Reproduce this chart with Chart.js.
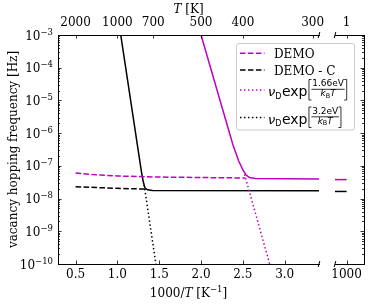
<!DOCTYPE html>
<html>
<head>
<meta charset="utf-8">
<script src="https://cdn.jsdelivr.net/npm/chart.js@4"></script>
<style>
  html, body { margin: 0; padding: 0; background: #fff; }
  #wrap { position: relative; width: 374px; height: 304px; }
  #wrap canvas { position: absolute; left: 0; top: 0; }
</style>
</head>
<body>
<div id="wrap">
  <canvas id="side" width="374" height="304"></canvas>
  <canvas id="main" width="374" height="304"></canvas>
</div>
<script>
// values: x is 1000/T [1/K], y is hopping frequency [Hz]
const demoX = [0.5, 0.7, 1.0, 1.5, 2.0, 2.53];
const demoY = [6.0e-8, 5.4e-8, 4.9e-8, 4.55e-8, 4.4e-8, 4.25e-8];
const demoCX = [0.5, 0.8, 1.0, 1.34];
const demoCY = [2.3e-8, 2.15e-8, 2.05e-8, 1.95e-8];
const demoLowX = [2.0, 2.38, 2.45, 2.5, 2.54, 2.58, 2.65, 3.41];
const demoLowY = [1e-3, 4.5e-7, 1.4e-7, 7.5e-8, 5.2e-8, 4.4e-8, 4.1e-8, 4.0e-8];
const demoCLowX = [1.04, 1.25, 1.29, 1.31, 1.33, 1.36, 1.42, 3.41];
const demoCLowY = [1e-3, 2.8e-7, 6.0e-8, 3.2e-8, 2.1e-8, 1.85e-8, 1.78e-8, 1.72e-8];
const arr166X = [2.52, 2.82];
const arr166Y = [5.5e-8, 1e-10];
const arr32X = [1.32, 1.46];
const arr32Y = [2.6e-8, 1e-10];
// right panel, around 1000/T = 1000 (T = 1 K)
const sideX = [995, 1000];
const demoSideY = [3.8e-8, 3.8e-8];
const demoCSideY = [1.65e-8, 1.65e-8];

// ticks
const xTicks = [0.5, 1.0, 1.5, 2.0, 2.5, 3.0];
const tTicks = [2000, 1000, 700, 500, 400, 300];
const sideXTicks = [1000];
const sideTTicks = [1];
const yExps = [-10, -9, -8, -7, -6, -5, -4, -3];

const legendLabels = ['DEMO', 'DEMO - C'];
const legendEnergies = ['1.66eV', '3.2eV'];

const MAG = '#bf00bf';
const DASH = [5.55, 2.4];
const DOT = [1.5, 2.475];
const SERIF = 'DejaVu Serif';
const SANS = 'DejaVu Sans';
const FS = 12;

Chart.defaults.font.family = SERIF;
Chart.defaults.font.size = FS;
Chart.defaults.color = '#000';

const pts = (xs, ys) => xs.map((x, i) => ({x: x, y: ys[i]}));

// major decades plus 2..9 minor marks
let yTicks = [];
yExps.forEach((e, k) => {
  for (let m = 1; m <= 9; m++) {
    if (m > 1 && k === yExps.length - 1) break;
    yTicks.push({value: m * Math.pow(10, e), major: m === 1, exp: e});
  }
});

function line(data, color, dash) {
  return {data: data, borderColor: color, borderWidth: 1.5, borderDash: dash || [],
    pointRadius: 0, fill: false, tension: 0};
}

// ticks point inward, minor ones shorter
const inTicks = {
  id: 'inTicks',
  afterDraw(chart) {
    const ctx = chart.ctx, a = chart.chartArea;
    ctx.save();
    ctx.strokeStyle = '#000';
    ctx.lineWidth = 0.8;
    Object.values(chart.scales).forEach(s => {
      s.ticks.forEach(t => {
        if (t.value < s.min || t.value > s.max) return;
        const len = t.major === false ? 2 : 3.5;
        const p = Math.round(s.getPixelForValue(t.value)) + 0.5;
        ctx.beginPath();
        if (s.position === 'bottom') { ctx.moveTo(p, a.bottom); ctx.lineTo(p, a.bottom - len); }
        else if (s.position === 'top') { ctx.moveTo(p, a.top); ctx.lineTo(p, a.top + len); }
        else if (s.position === 'left') { ctx.moveTo(a.left, p); ctx.lineTo(a.left + len, p); }
        else { ctx.moveTo(a.right, p); ctx.lineTo(a.right - len, p); }
        ctx.stroke();
      });
    });
    ctx.restore();
  }
};

function breakMarks(chart, x) {
  const ctx = chart.ctx, a = chart.chartArea;
  ctx.save();
  ctx.strokeStyle = '#000';
  ctx.lineWidth = 1;
  [a.top, a.bottom].forEach(y => {
    ctx.beginPath();
    ctx.moveTo(x - 0.8, y + 3);
    ctx.lineTo(x + 0.8, y - 3);
    ctx.stroke();
  });
  ctx.restore();
}

function drawPieces(ctx, pieces, x) {
  pieces.forEach(p => {
    ctx.font = p[1];
    ctx.fillText(p[0], x, p[2]);
    x += ctx.measureText(p[0]).width;
  });
  return x;
}
function piecesWidth(ctx, pieces) {
  let w = 0;
  pieces.forEach(p => { ctx.font = p[1]; w += ctx.measureText(p[0]).width; });
  return w;
}

function bracket(ctx, x, c, dir) {
  ctx.beginPath();
  ctx.moveTo(x + 2.5 * dir, c - 10.5);
  ctx.lineTo(x, c - 10.5);
  ctx.lineTo(x, c + 10);
  ctx.lineTo(x + 2.5 * dir, c + 10);
  ctx.stroke();
}

function mathLabel(ctx, x, c, energy) {
  ctx.textBaseline = 'alphabetic';
  ctx.textAlign = 'left';
  x = drawPieces(ctx, [['\u03BD', 'italic 13px ' + SANS, c + 6], ['D', '8px ' + SANS, c + 8.5]], x);
  x = drawPieces(ctx, [['exp', '14px ' + SANS, c + 6]], x + 0.5);
  ctx.lineWidth = 0.8;
  ctx.strokeStyle = '#000';
  bracket(ctx, x + 1.5, c, 1);
  x += 4;
  const num = [[energy, '9px ' + SANS, c - 3.7]];
  const den = [['k', 'italic 9px ' + SANS, c + 6.3], ['B', '6.5px ' + SANS, c + 7.8], ['T', 'italic 9px ' + SANS, c + 6.3]];
  const nw = piecesWidth(ctx, num), dw = piecesWidth(ctx, den);
  const fw = Math.max(nw, dw) + 1.5;
  drawPieces(ctx, num, x + (fw - nw) / 2);
  drawPieces(ctx, den, x + (fw - dw) / 2);
  ctx.beginPath();
  ctx.moveTo(x, c - 0.7);
  ctx.lineTo(x + fw, c - 0.7);
  ctx.stroke();
  bracket(ctx, x + fw + 2, c, -1);
}

const decorations = {
  id: 'decorations',
  afterDraw(chart) {
    const ctx = chart.ctx, a = chart.chartArea;
    breakMarks(chart, a.right);
    ctx.save();
    ctx.fillStyle = '#000';
    ctx.textBaseline = 'alphabetic';
    ctx.textAlign = 'left';
    const cx = (a.left + a.right) / 2;
    const f = FS + 'px ' + SERIF, fi = 'italic ' + FS + 'px ' + SERIF, fs = '8.5px ' + SERIF;

    // y tick labels 10^n, placed with the log scale
    const ys = chart.scales.y;
    yTicks.forEach(t => {
      if (!t.major) return;
      const py = ys.getPixelForValue(t.value);
      const pc = [['10', f, py + 4.5], ['\u2212' + Math.abs(t.exp), fs, py - 0.5]];
      drawPieces(ctx, pc, a.left - 5 - piecesWidth(ctx, pc));
    });

    // top title: T [K]
    let tp = [['T', fi, 13], [' [K]', f, 13]];
    drawPieces(ctx, tp, cx - piecesWidth(ctx, tp) / 2);
    // bottom title: 1000/T [K^-1]
    let bp = [['1000/', f, 297], ['T', fi, 297], [' [K', f, 297],
      ['\u2212' + '1', fs, 291.5], [']', f, 297]];
    drawPieces(ctx, bp, cx - piecesWidth(ctx, bp) / 2);
    // y title
    ctx.save();
    ctx.translate(17, (a.top + a.bottom) / 2);
    ctx.rotate(-Math.PI / 2);
    ctx.font = f;
    ctx.textAlign = 'center';
    ctx.fillText('vacancy hopping frequency [Hz]', 0, 0);
    ctx.restore();

    // legend
    const bx = 236.5, by = 43.5, bw = 118, bh = 86.5, r = 2.5;
    ctx.beginPath();
    ctx.moveTo(bx + r, by);
    ctx.arcTo(bx + bw, by, bx + bw, by + bh, r);
    ctx.arcTo(bx + bw, by + bh, bx, by + bh, r);
    ctx.arcTo(bx, by + bh, bx, by, r);
    ctx.arcTo(bx, by, bx + bw, by, r);
    ctx.closePath();
    ctx.fillStyle = 'rgba(255,255,255,0.8)';
    ctx.fill();
    ctx.strokeStyle = '#cccccc';
    ctx.lineWidth = 1;
    ctx.stroke();

    const rows = [
      {c: 53.3, color: MAG, dash: DASH, text: legendLabels[0]},
      {c: 70, color: '#000', dash: DASH, text: legendLabels[1]},
      {c: 90, color: MAG, dash: DOT, energy: legendEnergies[0]},
      {c: 117.5, color: '#000', dash: DOT, energy: legendEnergies[1]}
    ];
    rows.forEach(row => {
      ctx.save();
      ctx.strokeStyle = row.color;
      ctx.lineWidth = 1.5;
      ctx.setLineDash(row.dash);
      ctx.beginPath();
      ctx.moveTo(240, row.c);
      ctx.lineTo(264.5, row.c);
      ctx.stroke();
      ctx.restore();
      ctx.fillStyle = '#000';
      if (row.text) {
        ctx.font = '12px ' + SERIF;
        ctx.textAlign = 'left';
        ctx.fillText(row.text, 274, row.c + 5);
      } else {
        mathLabel(ctx, 268, row.c, row.energy);
      }
    });
    ctx.restore();
  }
};

const sideMarks = {
  id: 'sideMarks',
  afterDraw(chart) { breakMarks(chart, chart.chartArea.left); }
};

const noGrid = {display: false, drawTicks: false};
const spine = {display: true, color: '#000', width: 1};

new Chart(document.getElementById('main'), {
  type: 'line',
  data: {
    datasets: [
      line(pts(demoX, demoY), MAG, DASH),
      line(pts(demoCX, demoCY), '#000', DASH),
      line(pts(arr166X, arr166Y), MAG, DOT),
      line(pts(arr32X, arr32Y), '#000', DOT),
      line(pts(demoLowX, demoLowY), MAG),
      line(pts(demoCLowX, demoCLowY), '#000')
    ]
  },
  options: {
    responsive: false,
    animation: false,
    devicePixelRatio: 1,
    layout: {padding: {left: 0, right: 55, top: 0, bottom: 0}},
    plugins: {legend: {display: false}, tooltip: {enabled: false}},
    scales: {
      x: {
        type: 'linear', position: 'bottom', min: 0.29, max: 3.41,
        afterBuildTicks: s => { s.ticks = xTicks.map(v => ({value: v})); },
        afterFit: s => { s.height = 40; },
        ticks: {callback: v => v.toFixed(1), padding: 4, autoSkip: false, maxRotation: 0},
        grid: noGrid, border: spine
      },
      xt: {
        type: 'linear', position: 'top', min: 0.29, max: 3.41,
        afterBuildTicks: s => { s.ticks = tTicks.map(t => ({value: 1000 / t})); },
        afterFit: s => { s.height = 35; },
        ticks: {callback: (v, i) => String(tTicks[i]), padding: 5, autoSkip: false, maxRotation: 0},
        grid: noGrid, border: spine
      },
      y: {
        type: 'logarithmic', position: 'left', min: 1e-10, max: 1e-3,
        afterBuildTicks: s => { s.ticks = yTicks.map(t => ({value: t.value, major: t.major})); },
        afterFit: s => { s.width = 58; },
        ticks: {display: false, autoSkip: false},
        grid: noGrid, border: spine
      }
    }
  },
  plugins: [inTicks, decorations]
});

new Chart(document.getElementById('side'), {
  type: 'line',
  data: {
    datasets: [
      line(pts(sideX, demoSideY), MAG),
      line(pts(sideX, demoCSideY), '#000')
    ]
  },
  options: {
    responsive: false,
    animation: false,
    devicePixelRatio: 1,
    layout: {padding: {left: 335, right: 10, top: 0, bottom: 0}},
    plugins: {legend: {display: false}, tooltip: {enabled: false}},
    scales: {
      x: {
        type: 'linear', position: 'bottom', min: 996, max: 1006,
        afterBuildTicks: s => { s.ticks = sideXTicks.map(v => ({value: v})); },
        afterFit: s => { s.height = 40; },
        ticks: {callback: v => String(v), padding: 4, autoSkip: false, maxRotation: 0},
        grid: noGrid, border: spine
      },
      xt: {
        type: 'linear', position: 'top', min: 996, max: 1006,
        afterBuildTicks: s => { s.ticks = sideTTicks.map(t => ({value: 1000 / t})); },
        afterFit: s => { s.height = 35; },
        ticks: {callback: (v, i) => String(sideTTicks[i]), padding: 5, autoSkip: false, maxRotation: 0},
        grid: noGrid, border: spine
      },
      y: {
        type: 'logarithmic', position: 'right', min: 1e-10, max: 1e-3,
        afterBuildTicks: s => { s.ticks = yTicks.map(t => ({value: t.value, major: t.major})); },
        afterFit: s => { s.width = 0; },
        ticks: {display: false, autoSkip: false},
        grid: noGrid, border: spine
      }
    }
  },
  plugins: [inTicks, sideMarks]
});
</script>
</body>
</html>
